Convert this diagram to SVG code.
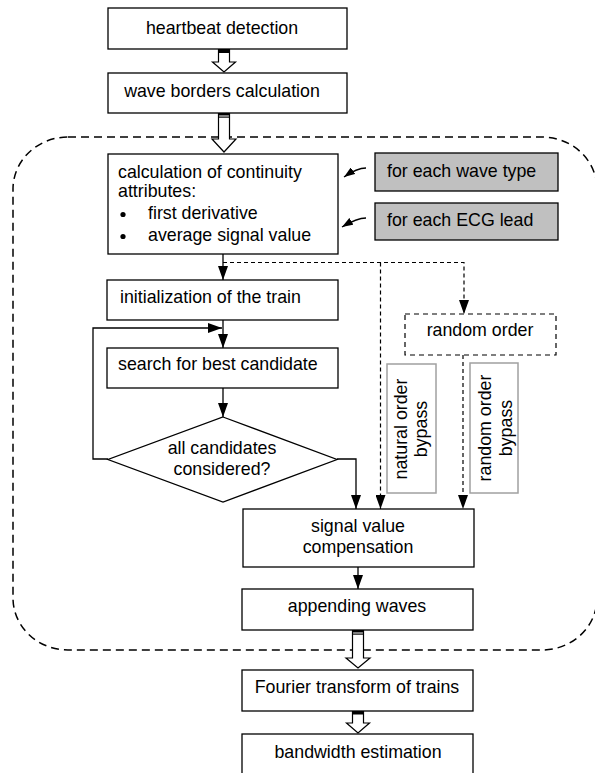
<svg xmlns="http://www.w3.org/2000/svg" width="595" height="773" viewBox="0 0 595 773">
<style>
  .box { fill: #fff; stroke: #000; stroke-width: 1.3; }
  .grey { fill: #c0c0c0; stroke: #000; stroke-width: 1.3; }
  .lbl { fill: #fff; stroke: #a0a0a0; stroke-width: 1.5; }
  .t { font-family: "Liberation Sans", Arial, sans-serif; font-size: 17.8px; fill: #000; }
  .m { text-anchor: middle; }
  .ln { fill: none; stroke: #000; stroke-width: 1.3; }
  .dl { fill: none; stroke: #000; stroke-width: 1.2; stroke-dasharray: 4,3; }
  .hollow { fill: #fff; stroke: #000; stroke-width: 1.2; }
</style>
<defs>
  <marker id="ah" markerUnits="userSpaceOnUse" markerWidth="14" markerHeight="10" refX="14" refY="5" orient="auto">
    <path d="M0,0 L14,5 L0,10 z" fill="#000"/>
  </marker>
  <marker id="sa" markerUnits="userSpaceOnUse" markerWidth="11" markerHeight="8" refX="11" refY="4" orient="auto">
    <path d="M0,0 L11,4 L0,8 z" fill="#000"/>
  </marker>
</defs>

<!-- boundary -->
<rect x="13" y="137" width="584" height="513" rx="55" ry="52" fill="none" stroke="#000" stroke-width="1.5" stroke-dasharray="8,5"/>

<g id="connectors">
  <!-- hollow arrows -->
  <path class="hollow" d="M218.5,49 L229.5,49 L229.5,62 L235.5,62 L224,72 L212.5,62 L218.5,62 Z"/>
  <rect x="218.5" y="49" width="11" height="4" fill="#000"/>
  <path class="hollow" d="M218.5,113 L229.5,113 L229.5,139 L236,139 L224,152 L212,139 L218.5,139 Z"/>
  <rect x="218.5" y="113" width="11" height="2.5" fill="#000"/>
  <rect x="218.5" y="116.5" width="11" height="1.2" fill="#000"/>
  <path class="hollow" d="M352.5,630 L363.5,630 L363.5,658 L370,658 L358,668 L346,658 L352.5,658 Z"/>
  <rect x="352.5" y="630" width="11" height="2.5" fill="#000"/>
  <rect x="352.5" y="633.5" width="11" height="1.2" fill="#000"/>
  <path class="hollow" d="M352.5,711 L363.5,711 L363.5,723 L369.5,723 L358,733 L346.5,723 L352.5,723 Z"/>
  <rect x="352.5" y="711" width="11" height="3.5" fill="#000"/>

  <!-- small arrows to calc box -->
  <path class="ln" d="M366,168 Q357,168 344,177" marker-end="url(#sa)"/>
  <path class="ln" d="M366,218 Q357,218 342,227" marker-end="url(#sa)"/>

  <!-- main flow -->
  <line class="ln" x1="223" y1="254" x2="223" y2="280" marker-end="url(#ah)"/>
  <line class="ln" x1="223" y1="320" x2="223" y2="348" marker-end="url(#ah)"/>
  <polyline class="ln" points="108,459 93,459 93,328 222,328" marker-end="url(#ah)"/>
  <line class="ln" x1="223" y1="388" x2="223" y2="417" marker-end="url(#ah)"/>
  <polyline class="ln" points="337,459 356,459 356,509" marker-end="url(#ah)"/>
  <line class="ln" x1="358" y1="567" x2="358" y2="589" marker-end="url(#ah)"/>

  <!-- dashed branches -->
  <polyline class="dl" points="223,262.5 464,262.5 464,314" marker-end="url(#ah)"/>
  <line class="dl" x1="380.5" y1="262.5" x2="380.5" y2="509" marker-end="url(#ah)"/>
  <line class="dl" x1="463" y1="355" x2="463" y2="509" marker-end="url(#ah)"/>
</g>

<g id="heartbeat">
  <rect class="box" x="108" y="8" width="239" height="41"/>
  <text class="t m" x="222" y="33.5">heartbeat detection</text>
</g>
<g id="waveborders">
  <rect class="box" x="108" y="73" width="239" height="40"/>
  <text class="t m" x="222" y="96.5">wave borders calculation</text>
</g>
<g id="calc">
  <rect class="box" x="108" y="154" width="230" height="100"/>
  <text class="t" x="118" y="178">calculation of continuity</text>
  <text class="t" x="118" y="197">attributes:</text>
  <circle cx="123" cy="214.5" r="2.6" fill="#000"/>
  <text class="t" x="148" y="219">first derivative</text>
  <circle cx="123" cy="236.5" r="2.6" fill="#000"/>
  <text class="t" x="148" y="241">average signal value</text>
</g>
<g id="wavetype">
  <rect class="grey" x="375" y="153" width="183" height="38"/>
  <text class="t" x="387" y="177">for each wave type</text>
</g>
<g id="ecglead">
  <rect class="grey" x="375" y="203" width="183" height="37"/>
  <text class="t" x="387" y="226">for each ECG lead</text>
</g>
<g id="init">
  <rect class="box" x="107" y="280" width="231" height="40"/>
  <text class="t" x="120" y="303">initialization of the train</text>
</g>
<g id="search">
  <rect class="box" x="107" y="348" width="231" height="40"/>
  <text class="t" x="118" y="370">search for best candidate</text>
</g>
<g id="decision">
  <polygon class="box" points="223,417 337,459.5 223,502 108,459.5"/>
  <text class="t m" x="222" y="454">all candidates</text>
  <text class="t m" x="222" y="475">considered?</text>
</g>
<g id="random">
  <rect x="405" y="314" width="151" height="41" fill="#fff" stroke="#000" stroke-width="1.2" stroke-dasharray="5,4"/>
  <text class="t m" x="480" y="336">random order</text>
</g>
<g id="naturalbypass">
  <rect class="lbl" x="387" y="364" width="49" height="129"/>
  <text class="t m" transform="translate(407,429) rotate(-90)">natural order</text>
  <text class="t m" transform="translate(427,429) rotate(-90)">bypass</text>
</g>
<g id="randombypass">
  <rect class="lbl" x="470" y="363" width="48" height="130"/>
  <text class="t m" transform="translate(491,428) rotate(-90)">random order</text>
  <text class="t m" transform="translate(511.5,428) rotate(-90)">bypass</text>
</g>
<g id="signal">
  <rect class="box" x="243" y="509" width="231" height="58"/>
  <text class="t m" x="358" y="532">signal value</text>
  <text class="t m" x="358" y="553">compensation</text>
</g>
<g id="appending">
  <rect class="box" x="242" y="589" width="231" height="41"/>
  <text class="t m" x="357" y="612">appending waves</text>
</g>
<g id="fourier">
  <rect class="box" x="242" y="670" width="231" height="41"/>
  <text class="t m" x="357" y="693">Fourier transform of trains</text>
</g>
<g id="bandwidth">
  <rect class="box" x="242" y="734" width="231" height="50"/>
  <text class="t m" x="358" y="757.5">bandwidth estimation</text>
</g>
</svg>
